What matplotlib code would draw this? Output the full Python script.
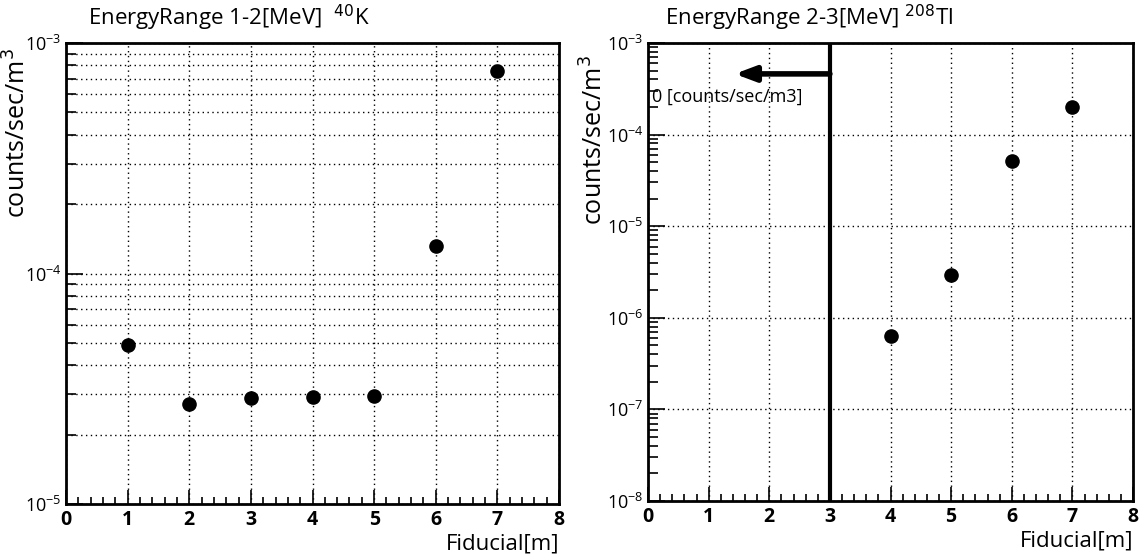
import matplotlib.pyplot as plt
import numpy as np
from matplotlib.ticker import LogLocator, MultipleLocator, NullFormatter

plt.rcParams['font.family'] = ['Open Sans', 'DejaVu Sans']

# data
fid_k = [1, 2, 3, 4, 5, 6, 7]
rate_k = [4.9e-5, 2.71e-5, 2.88e-5, 2.9e-5, 2.93e-5, 1.32e-4, 7.55e-4]
fid_tl = [4, 5, 6, 7]
rate_tl = [6.4e-7, 2.93e-6, 5.1e-5, 2.0e-4]
titles = ["EnergyRange 1-2[MeV]  $^{40}$K", "EnergyRange 2-3[MeV] $^{208}$Tl"]
cut_x = 3
arrow_to = 1.43
arrow_y = 4.6e-4
zero_text = "0 [counts/sec/m3]"

fig = plt.figure(figsize=(11.46, 5.57), dpi=100)
W, H = 1146, 557
ax1 = fig.add_axes([66 / W, 1 - 504 / H, (559 - 66) / W, (504 - 43) / H])
ax2 = fig.add_axes([648 / W, 1 - 501 / H, (1133 - 648) / W, (501 - 43) / H])


def style(ax, ylo, yhi, minor_grid):
    ax.set_yscale('log')
    ax.set_xlim(0, 8)
    ax.set_ylim(ylo, yhi)
    ax.xaxis.set_major_locator(MultipleLocator(1))
    ax.xaxis.set_minor_locator(MultipleLocator(0.2))
    ax.yaxis.set_major_locator(LogLocator(base=10, numticks=20))
    ax.yaxis.set_minor_locator(LogLocator(base=10, subs=np.arange(2, 10), numticks=20))
    ax.yaxis.set_minor_formatter(NullFormatter())
    ax.tick_params(axis='both', which='both', direction='in', top=False, right=False, width=1.2)
    ax.tick_params(axis='x', which='major', length=10, labelsize=14, pad=4)
    ax.tick_params(axis='x', which='minor', length=5)
    ax.tick_params(axis='y', which='major', length=12, labelsize=13, pad=3)
    ax.tick_params(axis='y', which='minor', length=7)
    for lab in ax.get_xticklabels():
        lab.set_fontweight('bold')
    for s in ax.spines.values():
        s.set_linewidth(2)
    ax.grid(True, which='major', linestyle=(0, (1, 2.5)), color='black', linewidth=1)
    if minor_grid:
        ax.grid(True, which='minor', axis='y', linestyle=(0, (1, 2.5)), color='black', linewidth=1)
    ax.set_axisbelow(True)
    ax.set_xlabel("Fiducial[m]", fontsize=16, loc='right', labelpad=3)


style(ax1, 1e-5, 1e-3, True)
style(ax2, 1e-8, 1e-3, False)

ax1.plot(fid_k, rate_k, 'o', color='black', markersize=9.5, zorder=5)
ax2.plot(fid_tl, rate_tl, 'o', color='black', markersize=9.5, zorder=5)

ax2.axvline(cut_x, color='black', linewidth=3, zorder=4)
ax2.annotate("", xy=(arrow_to, arrow_y), xytext=(cut_x, arrow_y),
             arrowprops=dict(arrowstyle='-|>,head_length=1.2,head_width=0.45',
                             color='black', linewidth=4, shrinkA=0, shrinkB=0))
ax2.text(0.06, 2.6e-4, zero_text, fontsize=13, ha='left', va='center')

fig.text(88 / W, 1 - 18 / H, titles[0], fontsize=16, ha='left', va='center')
fig.text(665 / W, 1 - 18 / H, titles[1], fontsize=16, ha='left', va='center')

fig.text(18 / W, 1 - 48 / H, "counts/sec/m$^3$", fontsize=18, rotation=90, ha='center', va='top')
fig.text(595 / W, 1 - 55 / H, "counts/sec/m$^3$", fontsize=18, rotation=90, ha='center', va='top')

fig.savefig("out.png", dpi=100)
